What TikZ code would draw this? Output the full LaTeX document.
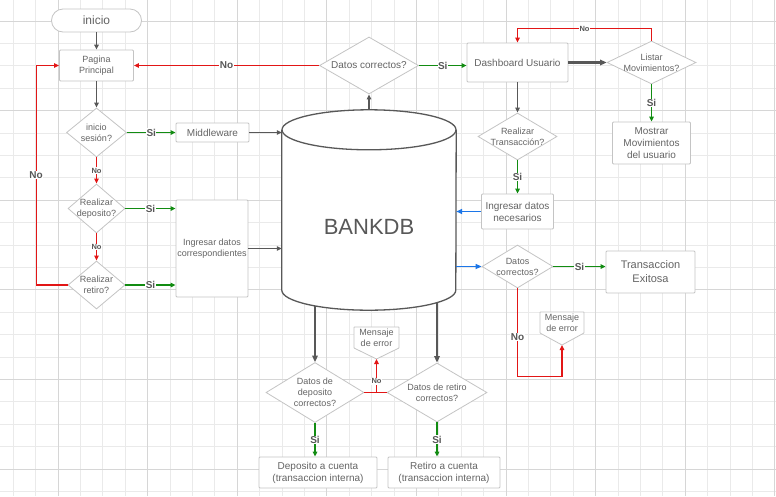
\documentclass[tikz,border=0pt]{standalone}
\usepackage{fontspec}
\setmainfont{Liberation Sans}
\usetikzlibrary{shapes.geometric, arrows.meta}

\definecolor{gridlt}{RGB}{234,234,234}
\definecolor{griddk}{RGB}{214,214,214}
\definecolor{shapeline}{RGB}{196,196,196}
\definecolor{txtgray}{RGB}{100,100,100}
\definecolor{flowgray}{RGB}{88,88,88}
\definecolor{nored}{RGB}{226,22,22}
\definecolor{sigreen}{RGB}{18,140,18}
\definecolor{toblue}{RGB}{28,118,232}

\begin{document}
\begin{tikzpicture}[
  x=1pt, y=-1pt,
  every node/.style={
    text=txtgray, align=center, font=\fontsize{9}{11}\selectfont
  },
  box/.style={
    rectangle, draw=shapeline, line width=0.8pt, fill=white,
    rounded corners=1pt, inner sep=1pt
  },
  decision/.style={
    diamond, draw=shapeline, line width=0.8pt, fill=white, inner sep=-2pt
  },
  msgshape/.style={
    draw=shapeline, line width=0.8pt, fill=white, rounded corners=0.5pt
  },
  dbline/.style={
    draw=flowgray, line width=1.3pt, fill=white
  },
  flow/.style={
    draw=flowgray, line width=1.5pt, -{Triangle[length=5pt,width=4.5pt]}
  },
  bigflow/.style={
    draw=flowgray, line width=2.2pt, -{Triangle[length=6.5pt,width=5.5pt]}
  },
  siline/.style={
    draw=sigreen, line width=1.4pt, -{Triangle[length=5pt,width=4.5pt]}
  },
  noline/.style={
    draw=nored, line width=1.2pt, -{Triangle[length=5pt,width=4.5pt]}
  },
  bluline/.style={
    draw=toblue, line width=1.6pt, -{Triangle[length=6pt,width=5pt]}
  },
  tag/.style={
    fill=white, inner sep=0.5pt, text=flowgray,
    font=\fontsize{10}{10}\bfseries\selectfont
  },
  smalltag/.style={
    tag, font=\fontsize{7.5}{8}\bfseries\selectfont
  },
  minorline/.style={draw=gridlt, line width=0.7pt},
  majorline/.style={draw=griddk, line width=0.8pt}
  ]
  \fill[white] (0,0) rectangle (776,496);
  \useasboundingbox (0,0) rectangle (776,496);
  \foreach \i in {0,...,34} \draw[minorline] ({13.2+22.4*\i},0) -- ({13.2+22.4*\i},496);
  \foreach \j in {1,...,22} \draw[minorline] (0,{-1.4+22.4*\j}) -- (776,{-1.4+22.4*\j});
  \foreach \i in {0,...,8} \draw[majorline] ({58+89.6*\i},0) -- ({58+89.6*\i},496);
  \foreach \j in {0,...,5} \draw[majorline] (0,{21+89.6*\j}) -- (776,{21+89.6*\j});

  % left column
  \node[box, rounded corners=11.5pt, minimum width=90pt, minimum height=23pt,
    font=\fontsize{12}{12}\selectfont] (start) at (96.5,20.5) {inicio};
  \node[box, minimum width=74pt, minimum height=31pt] (pag) at (96.5,65.5) {Pagina\\Principal};
  \node[decision, minimum width=60pt, minimum height=49pt, aspect=1.22] (ses) at (96.5,132.5) {inicio\\sesión?};
  \node[decision, minimum width=57pt, minimum height=49pt, aspect=1.16] (dep) at (96.5,208.5) {Realizar\\deposito?};
  \node[decision, minimum width=57pt, minimum height=48pt, aspect=1.19] (ret) at (96.5,285) {Realizar\\retiro?};
  \node[box, minimum width=73pt, minimum height=19pt,
    font=\fontsize{10}{12}\selectfont] (mw) at (212.5,132.5) {Middleware};
  \node[box, minimum width=72pt, minimum height=97pt, inner sep=0pt] (ing) at (212,248.5) {Ingresar datos\\correspondientes};

  % database
  \node[minimum width=174pt, minimum height=200pt] (db) at (369,210) {};
  \draw[dbline] ([yshift=-20pt]db.north west) -- ([yshift=20pt]db.south west)
    arc[start angle=180, end angle=0, x radius=87, y radius=20] -- ([yshift=-20pt]db.north east);
  \draw[dbline] ([yshift=-20pt]db.north) ellipse[x radius=87, y radius=20];
  \node[text=flowgray, font=\fontsize{22}{22}\selectfont] (dbname) at (369,227) {BANKDB};

  % top and right
  \node[decision, minimum width=99pt, minimum height=57pt, aspect=1.74,
    font=\fontsize{10}{12}\selectfont] (dc) at (369,65.5) {Datos correctos?};
  \node[box, minimum width=101pt, minimum height=39pt,
    font=\fontsize{10}{12}\selectfont] (dash) at (517.5,62.5) {Dashboard Usuario};
  \node[decision, minimum width=89pt, minimum height=43pt, aspect=2.07] (lm) at (651.5,62.5) {Listar\\Movimientos?};
  \node[box, minimum width=78pt, minimum height=42pt,
    font=\fontsize{10}{12}\selectfont] (mm) at (651.5,143) {Mostrar\\Movimientos\\del usuario};
  \node[decision, minimum width=79pt, minimum height=47pt, aspect=1.68] (rt) at (517.5,136.5) {Realizar\\Transacción?};
  \node[box, minimum width=72pt, minimum height=35pt,
    font=\fontsize{10}{12}\selectfont] (ind) at (517.5,211.5) {Ingresar datos\\necesarios};
  \node[decision, minimum width=71pt, minimum height=43pt, aspect=1.65] (dc2) at (517.5,266.5) {Datos\\correctos?};
  \node[box, minimum width=89pt, minimum height=42pt,
    font=\fontsize{11}{14}\selectfont] (ok) at (650.5,272) {Transaccion\\Exitosa};

  % bottom
  \node[decision, minimum width=98pt, minimum height=60pt, aspect=1.63] (ddep) at (315,392.5) {Datos de\\deposito\\correctos?};
  \node[decision, minimum width=100pt, minimum height=59pt, aspect=1.69] (dret) at (437,392.5) {Datos de retiro\\correctos?};
  \node[box, minimum width=118pt, minimum height=31pt,
    font=\fontsize{10}{12}\selectfont] (cdep) at (318,472.5) {Deposito a cuenta\\(transaccion interna)};
  \node[box, minimum width=112pt, minimum height=31pt,
    font=\fontsize{10}{12}\selectfont] (cret) at (444,472.5) {Retiro a cuenta\\(transaccion interna)};

  \draw[msgshape] (376.5,359) coordinate (m1tip) -- ++(22.5,-11) -- ++(0,-21) -- ++(-45,0) -- ++(0,21) -- cycle;
  \node[inner sep=0pt] (m1) at (376.5,337.5) {Mensaje\\de error};
  \draw[msgshape] (562,345) coordinate (m2tip) -- ++(22,-12) -- ++(0,-21) -- ++(-44,0) -- ++(0,21) -- cycle;
  \node[inner sep=0pt] (m2) at (562,322.5) {Mensaje\\de error};

  % connectors
  \draw[flow] (start) -- (pag);
  \draw[flow] (pag) -- (ses);
  \draw[siline] (ses) -- node[tag] (si1) {Si} (mw);
  \draw[noline] (ses) -- node[smalltag] (no1) {No} (dep);
  \draw[noline] (dep) -- node[smalltag] (no2) {No} (ret);
  \draw[siline] (dep) -- node[tag] (si2) {Si} (dep -| ing.west);
  \draw[siline] (ret) -- node[tag] (si3) {Si} (ret -| ing.west);
  \draw[noline] (ret.west) -- ++(-31.5,0) |- node[tag, pos=0.25] (no3) {No} (pag.west);
  \draw[flow] (mw) -- (mw -| db.west);
  \draw[flow] (ing) -- (ing -| db.west);
  \draw[flow] (db.north) -- (dc);
  \draw[noline] (dc) -- node[tag] (no4) {No} (pag);
  \draw[siline] (dc) -- node[tag] (si4) {Si} (dc -| dash.west);
  \draw[bigflow] (dash) -- (lm);
  \draw[noline] (lm.north) -- ++(0,-12) -| node[smalltag, pos=0.25] (no5) {No} (dash.north);
  \draw[siline] (lm) -- node[tag] (si5) {Si} (mm);
  \draw[flow] (dash) -- (rt);
  \draw[siline] (rt) -- node[tag] (si6) {Si} (ind);
  \draw[bluline] (ind) -- (ind -| db.east);
  \draw[bluline] (dc2 -| db.east) -- (dc2);
  \draw[siline] (dc2) -- node[tag] (si7) {Si} (dc2 -| ok.west);
  \draw[noline] (dc2.south) -- node[tag, pos=0.55] (no6) {No} ++(0,88) -| (m2tip);
  \draw[bigflow] ([xshift=-54pt,yshift=4pt]db.south) -- (ddep);
  \draw[bigflow] ([xshift=68pt,yshift=7.5pt]db.south) -- (dret);
  \draw[noline, -] (ddep) -- (dret);
  \draw[noline] (ddep.east -| m1tip) -- node[smalltag, pos=0.33] (no7) {No} (m1tip);
  \draw[siline] (ddep) -- node[tag] (si8) {Si} (ddep |- cdep.north);
  \draw[siline] (dret) -- node[tag] (si9) {Si} (dret |- cret.north);
\end{tikzpicture}
\end{document}
